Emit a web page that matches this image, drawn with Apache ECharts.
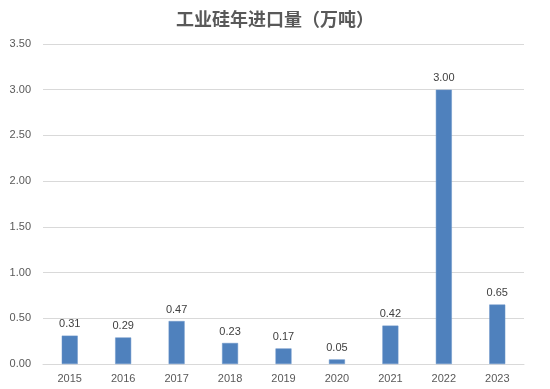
<!DOCTYPE html>
<html><head><meta charset="utf-8">
<script src="https://cdn.jsdelivr.net/npm/echarts@6/dist/echarts.min.js"></script>
<style>html,body{margin:0;padding:0;background:#fff}#c{width:550px;height:389px}</style>
</head><body><div id="c"></div>
<script>
var titleText = '工业硅年进口量（万吨）';
var years = ['2015','2016','2017','2018','2019','2020','2021','2022','2023'];
var imports = [0.31, 0.29, 0.47, 0.23, 0.17, 0.05, 0.42, 3.00, 0.65];
var yMin = 0, yMax = 3.5, yStep = 0.5;

var chart = echarts.init(document.getElementById('c'));
chart.setOption({
  animation: false,
  backgroundColor: '#fff',
  title: {
    text: titleText, left: 'center', top: 5,
    textStyle: {fontFamily: 'Noto Sans CJK SC', fontSize: 18, fontWeight: 'bold', color: '#595959'}
  },
  grid: {left: 43, right: 26, top: 44, bottom: 25, containLabel: false},
  xAxis: {
    type: 'category', data: years,
    axisLine: {lineStyle: {color: '#d9d9d9'}},
    axisTick: {show: false},
    axisLabel: {color: '#595959', fontSize: 11, fontFamily: 'Liberation Sans', margin: 9}
  },
  yAxis: {
    type: 'value', min: yMin, max: yMax, interval: yStep,
    axisLine: {show: false}, axisTick: {show: false},
    splitLine: {lineStyle: {color: '#d9d9d9'}},
    axisLabel: {color: '#595959', fontSize: 11, fontFamily: 'Liberation Sans', margin: 12,
      formatter: function(v){return v.toFixed(2);}}
  },
  series: [{
    type: 'bar', data: imports, barWidth: 16,
    itemStyle: {color: '#4f81bd', borderColor: '#6a95c8', borderWidth: 0.5},
    label: {show: true, position: 'top', distance: 6, color: '#404040', fontSize: 11,
      fontFamily: 'Liberation Sans', formatter: function(p){return p.value.toFixed(2);}}
  }]
});
</script></body></html>
